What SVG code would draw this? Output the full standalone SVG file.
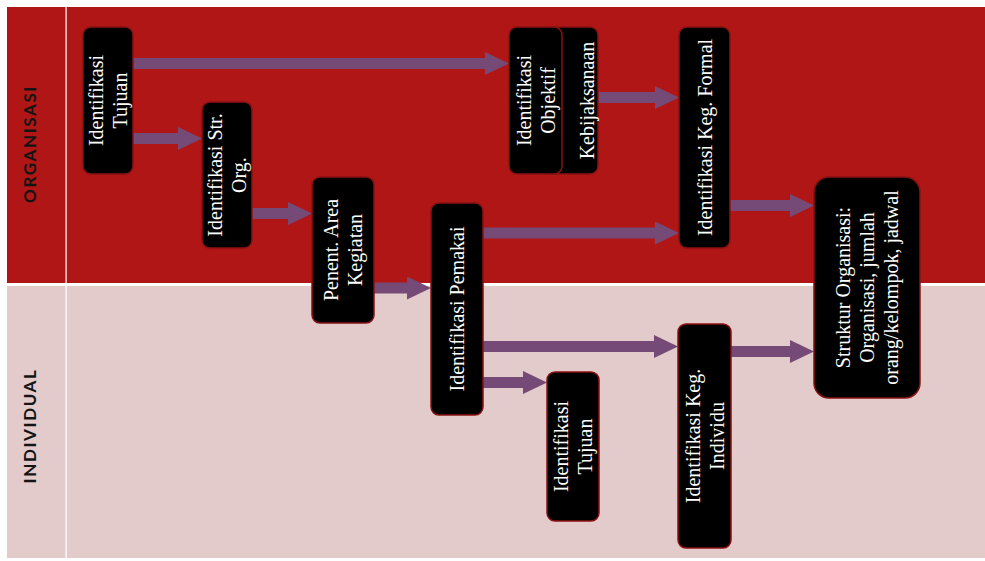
<svg xmlns="http://www.w3.org/2000/svg" width="985" height="561" viewBox="0 0 985 561">
<style>
.box{fill:#000;stroke:#8a1212;stroke-width:1.5}
.t{font-family:"Liberation Serif","DejaVu Serif",serif;font-size:20px;fill:#fff;text-anchor:middle;dominant-baseline:central}
.lane{font-family:"Lato","Open Sans","Liberation Sans",sans-serif;font-size:17px;font-weight:bold;letter-spacing:1.6px;fill:#141414;text-anchor:middle;dominant-baseline:central}
.c{stroke:#764a76;stroke-width:11;fill:none;marker-end:url(#ah)}
</style>
<defs>
<marker id="ah" markerUnits="userSpaceOnUse" markerWidth="24" markerHeight="23" refX="0" refY="11.5" orient="auto">
<path d="M0,0 L24,11.5 L0,23 Z" fill="#764a76"/>
</marker>
</defs>
<g id="lanes">
<rect x="7" y="7" width="978" height="276" fill="#b01616"/>
<rect x="7" y="283" width="978" height="3" fill="#ffffff"/>
<rect x="7" y="286" width="978" height="272" fill="#e3cbcb"/>
<rect x="65.5" y="7" width="1.2" height="551" fill="#ffffff"/>
<text class="lane" transform="translate(29,144) rotate(-90)">ORGANISASI</text>
<text class="lane" transform="translate(29,426) rotate(-90)">INDIVIDUAL</text>
</g>
<g id="connectors">
<line class="c" x1="133" y1="63.5" x2="485" y2="63.5"/>
<line class="c" x1="133" y1="138.5" x2="178" y2="138.5"/>
<line class="c" x1="252" y1="213.5" x2="288" y2="213.5"/>
<line class="c" x1="374" y1="288" x2="407" y2="288"/>
<line class="c" x1="598" y1="97.5" x2="655" y2="97.5"/>
<line class="c" x1="483" y1="233" x2="655" y2="233"/>
<line class="c" x1="730" y1="205.5" x2="790" y2="205.5"/>
<line class="c" x1="483" y1="346.5" x2="654" y2="346.5"/>
<line class="c" x1="483" y1="382.5" x2="523" y2="382.5"/>
<line class="c" x1="731" y1="351.5" x2="790" y2="351.5"/>
</g>
<g id="n1">
<rect class="box" x="83" y="27" width="50" height="147" rx="8"/>
<text class="t" transform="translate(108,100.5) rotate(-90)"><tspan x="0" y="-12">Identifikasi</tspan><tspan x="0" y="12">Tujuan</tspan></text>
</g>
<g id="n2">
<rect class="box" x="202" y="102" width="50" height="146" rx="8"/>
<text class="t" transform="translate(227,175) rotate(-90)"><tspan x="0" y="-12">Identifikasi Str.</tspan><tspan x="0" y="12">Org.</tspan></text>
</g>
<g id="n3">
<rect class="box" x="312" y="177" width="62" height="146" rx="8"/>
<text class="t" transform="translate(343,250) rotate(-90)"><tspan x="0" y="-12">Penent. Area</tspan><tspan x="0" y="12">Kegiatan</tspan></text>
</g>
<g id="n4">
<rect class="box" x="431" y="203" width="52" height="212" rx="8"/>
<text class="t" transform="translate(457,309) rotate(-90)">Identifikasi Pemakai</text>
</g>
<g id="n5">
<rect class="box" x="540" y="27" width="58" height="147" rx="8"/>
<text class="t" transform="translate(587,100.5) rotate(-90)">Kebijaksanaan</text>
</g>
<g id="n6">
<rect class="box" x="509" y="27" width="53" height="147" rx="8"/>
<text class="t" transform="translate(535.5,100.5) rotate(-90)"><tspan x="0" y="-12">Identifikasi</tspan><tspan x="0" y="12">Objektif</tspan></text>
</g>
<g id="n7">
<rect class="box" x="679" y="27" width="51" height="221" rx="8"/>
<text class="t" transform="translate(704.5,137.5) rotate(-90)">Identifikasi Keg. Formal</text>
</g>
<g id="n8">
<rect class="box" x="814" y="177" width="106" height="221" rx="15"/>
<text class="t" transform="translate(867,287.5) rotate(-90)"><tspan x="0" y="-24">Struktur Organisasi:</tspan><tspan x="0" y="0">Organisasi, jumlah</tspan><tspan x="0" y="24">orang/kelompok, jadwal</tspan></text>
</g>
<g id="n9">
<rect class="box" x="547" y="372" width="52" height="149" rx="8"/>
<text class="t" transform="translate(573,446.5) rotate(-90)"><tspan x="0" y="-12">Identifikasi</tspan><tspan x="0" y="12">Tujuan</tspan></text>
</g>
<g id="n10">
<rect class="box" x="678" y="324" width="53" height="224" rx="8"/>
<text class="t" transform="translate(704.5,436) rotate(-90)"><tspan x="0" y="-12">Identifikasi Keg.</tspan><tspan x="0" y="12">Individu</tspan></text>
</g>
</svg>
